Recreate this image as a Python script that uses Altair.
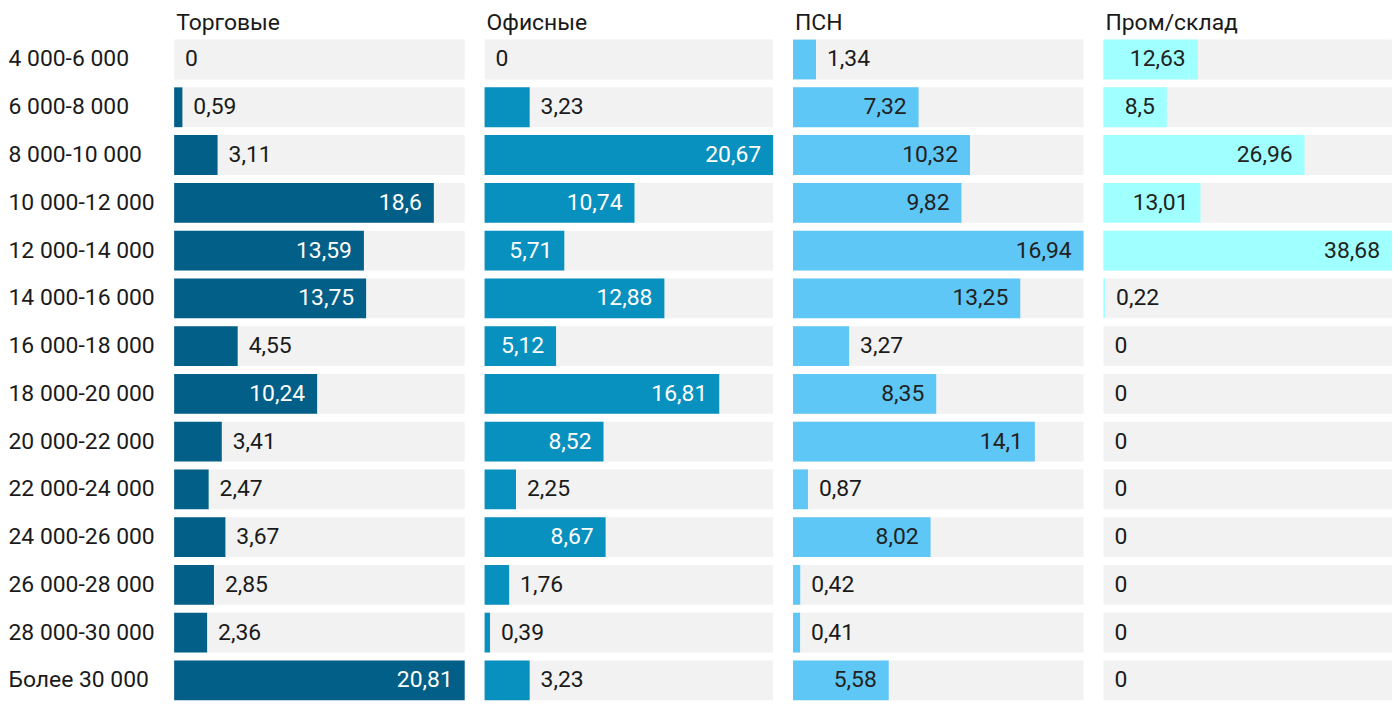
import altair as alt
import pandas as pd

categories = ["4 000-6 000", "6 000-8 000", "8 000-10 000", "10 000-12 000",
              "12 000-14 000", "14 000-16 000", "16 000-18 000", "18 000-20 000",
              "20 000-22 000", "22 000-24 000", "24 000-26 000", "26 000-28 000",
              "28 000-30 000", "Более 30 000"]
torg = [0, 0.59, 3.11, 18.6, 13.59, 13.75, 4.55, 10.24, 3.41, 2.47, 3.67, 2.85, 2.36, 20.81]
ofis = [0, 3.23, 20.67, 10.74, 5.71, 12.88, 5.12, 16.81, 8.52, 2.25, 8.67, 1.76, 0.39, 3.23]
psn = [1.34, 7.32, 10.32, 9.82, 16.94, 13.25, 3.27, 8.35, 14.1, 0.87, 8.02, 0.42, 0.41, 5.58]
prom = [12.63, 8.5, 26.96, 13.01, 38.68, 0.22, 0, 0, 0, 0, 0, 0, 0, 0]

panels = [
    ("Торговые", torg, "#025F87", "#ffffff", 292),
    ("Офисные", ofis, "#0891BE", "#ffffff", 290),
    ("ПСН", psn, "#5EC7F5", "#222222", 292),
    ("Пром/склад", prom, "#A0FFFF", "#222222", 290),
]

STEP = 48
FONT = "Roboto"
FS = 23


def text_width(s):
    return sum(5.7 if ch == "," else 12.9 for ch in s)


def panel(title, vals, color, tcolor, W, first):
    vmax = max(vals)
    labels = [f"{v:g}".replace(".", ",") for v in vals]
    inside = [(v / vmax * W - text_width(l)) > 24 for v, l in zip(vals, labels)]
    df = pd.DataFrame({"cat": categories, "v": vals, "label": labels,
                       "inside": inside, "vmax": vmax})
    yaxis = (alt.Axis(title=None, domain=False, ticks=False, labelAlign="left",
                      labelPadding=167, labelFont=FONT, labelFontSize=FS,
                      labelColor="#1a1a1a", labelLimit=200)
             if first else None)
    y = alt.Y("cat:N", sort=categories, axis=yaxis,
              scale=alt.Scale(paddingInner=1 / 6, paddingOuter=1 / 12))
    xs = alt.Scale(domain=[0, vmax], nice=False, zero=True)
    base = alt.Chart(df)
    bg = base.mark_bar(color="#F2F2F2").encode(
        y=y, x=alt.X("vmax:Q", scale=xs, axis=None))
    bars = base.mark_bar(color=color).encode(
        y=y, x=alt.X("v:Q", scale=xs, axis=None))
    t_in = base.transform_filter("datum.inside").mark_text(
        align="right", dx=-12, font=FONT, fontSize=FS, color=tcolor,
        baseline="middle").encode(y=y, x=alt.X("v:Q", scale=xs, axis=None),
                                  text="label:N")
    t_out = base.transform_filter("!datum.inside").mark_text(
        align="left", dx=11, font=FONT, fontSize=FS, color="#1a1a1a",
        baseline="middle").encode(y=y, x=alt.X("v:Q", scale=xs, axis=None),
                                  text="label:N")
    return alt.layer(bg, bars, t_in, t_out).properties(
        width=W, height=STEP * len(categories),
        title=alt.TitleParams(title, anchor="start", frame="group", font=FONT,
                              fontSize=FS, fontWeight="normal",
                              color="#1a1a1a", offset=1, dx=2))


chart = alt.hconcat(
    *[panel(t, v, c, tc, w, i == 0) for i, (t, v, c, tc, w) in enumerate(panels)],
    spacing=20,
).properties(padding={"top": 2, "left": 0, "right": 0, "bottom": 0}
             ).configure_view(stroke=None)

chart.save("out.html", embed_options={"renderer": "svg", "actions": False})
